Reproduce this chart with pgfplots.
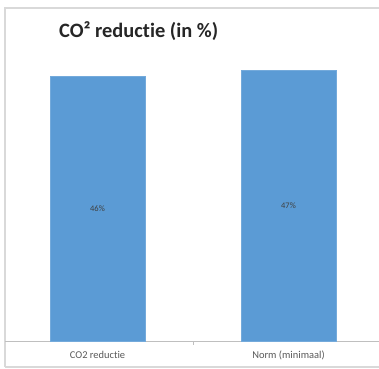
\documentclass[border=0pt]{standalone}
\usepackage{fontspec}
\setmainfont[Ligatures=NoCommon]{Carlito}
\usepackage{pgfplots}
\pgfplotsset{compat=1.18}
\definecolor{barblue}{HTML}{5B9BD5}
\definecolor{framegray}{HTML}{D9D9D9}
\definecolor{axgray}{HTML}{BFBFBF}
\definecolor{txtgray}{HTML}{595959}
\begin{document}
\begin{tikzpicture}
\useasboundingbox (0,0) rectangle (379bp,369bp);
\clip (0,0) rectangle (379bp,369bp);
\fill[white] (0,0) rectangle (379bp,369bp);
\draw[framegray, line width=1.2bp] (5bp,2bp) -- (5bp,361bp) -- (400bp,361bp);
\draw[framegray, line width=1.2bp] (5bp,2bp) -- (400bp,2bp);
\draw[axgray, line width=0.8bp] (5bp,27.3bp) -- (400bp,27.3bp);
\draw[axgray, line width=0.8bp] (193bp,27.3bp) -- (193bp,24bp);
\node[anchor=base west, font=\fontsize{20.5}{24}\selectfont\bfseries, text=black!85, inner sep=0pt] at (59bp,331bp) {CO² reductie (in \%)};
\begin{axis}[
  at={(2bp,27.3bp)}, anchor=south west,
  scale only axis, width=382bp, height=288.8bp,
  xmin=-0.5, xmax=1.5, ymin=0, ymax=50,
  ybar, bar width=95bp, bar shift=0pt,
  hide axis,
  clip=false,
]
\addplot[fill=barblue, draw=barblue!85!white, line width=0.5bp] coordinates {(0,46) (1,47)};
\addplot[draw=none, mark=none, nodes near coords, point meta=explicit symbolic,
  every node near coord/.style={anchor=center, font=\fontsize{8.5}{10}\selectfont, text=black!75}]
  coordinates {(0,23)[46\%] (1,23.5)[47\%]};
\node[anchor=base, font=\fontsize{10.5}{12}\selectfont, text=txtgray] at (axis cs:0,0) [yshift=-17bp] {CO2 reductie};
\node[anchor=base, font=\fontsize{10.5}{12}\selectfont, text=txtgray] at (axis cs:1,0) [yshift=-17bp] {Norm (minimaal)};
\end{axis}
\end{tikzpicture}
\end{document}
